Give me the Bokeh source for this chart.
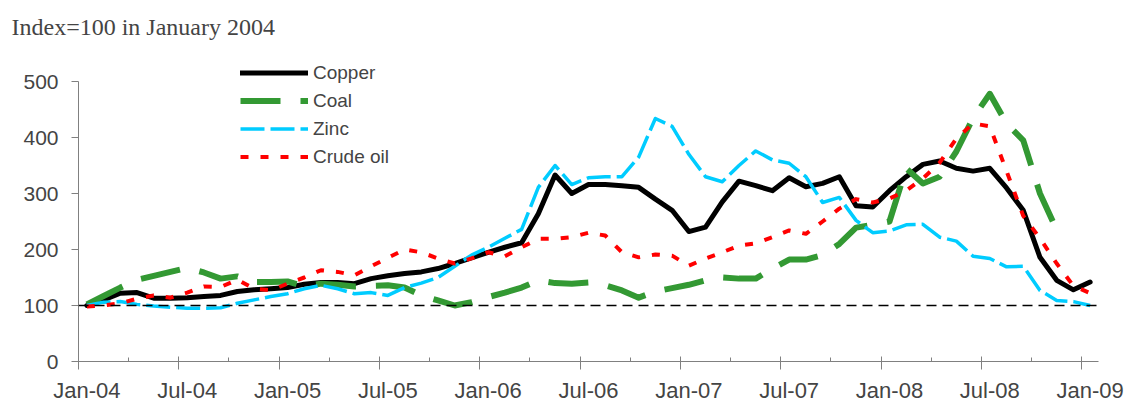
from bokeh.plotting import figure
from bokeh.models import Range1d, FixedTicker, LinearAxis, Span, Legend, LegendItem
from bokeh.embed import file_html
from bokeh.resources import INLINE

# ---- data (monthly, Jan-04 .. Jan-09), index = 100 in January 2004 ----
copper = [100, 110, 122, 123, 113, 113, 114, 116, 118, 125, 128, 130,
          132, 138, 141, 141, 139, 148, 153, 157, 160, 166, 175, 185,
          195, 204, 212, 264, 333, 300, 316, 316, 314, 311, 290, 270,
          232, 240, 285, 322, 314, 305, 328, 312, 318, 330, 278, 276,
          305, 330, 352, 358, 345, 340, 345, 310, 270, 186, 145, 128,
          142]
coal = [102, 117, 132, 146, 153, 160, 167, 159, 148, 152, 142, 142,
        143, 134, 139, 137, 134, 135, 136, 132, 118, 109, 100, 106,
        115, 123, 132, 145, 140, 139, 141, 136, 127, 114, 125, 131,
        137, 145, 150, 148, 148, 166, 182, 182, 190, 210, 239, 244,
        250, 345, 318, 330, 375, 435, 478, 425, 395, 300, 235]
zinc = [100, 106, 107, 102, 99, 97, 95, 95, 96, 104, 110, 116,
        121, 130, 136, 130, 121, 123, 118, 132, 140, 150, 170, 190,
        204, 220, 236, 311, 350, 316, 328, 330, 330, 365, 434, 420,
        370, 330, 321, 350, 376, 360, 354, 330, 284, 293, 252, 230,
        233, 244, 245, 222, 215, 188, 184, 169, 170, 127, 109, 107,
        100]
crude_oil = [98, 100, 104, 112, 118, 114, 123, 134, 133, 146, 130, 127,
             139, 150, 163, 160, 154, 170, 185, 200, 195, 184, 175, 184,
             195, 188, 204, 219, 219, 222, 230, 225, 195, 186, 191, 189,
             171, 184, 195, 207, 211, 222, 234, 228, 250, 273, 290, 284,
             291, 305, 327, 355, 398, 425, 420, 340, 260, 220, 175, 135,
             122]
tick_labels = ["Jan-04", "Jul-04", "Jan-05", "Jul-05", "Jan-06", "Jul-06",
               "Jan-07", "Jul-07", "Jan-08", "Jul-08", "Jan-09"]
y_ticks = [0, 100, 200, 300, 400, 500]
baseline = 100


def xs(series):
    return [i + 0.5 for i in range(len(series))]


FONT = "Liberation Sans"

p = figure(width=1125, height=405, output_backend="svg", toolbar_location=None,
           x_range=Range1d(0, 61), y_range=Range1d(0, 550),
           min_border_left=78, min_border_right=27, min_border_top=53,
           min_border_bottom=44,
           title="Index=100 in January 2004")
p.outline_line_color = None
p.xgrid.visible = False
p.ygrid.visible = False
p.background_fill_color = "white"

p.title.text_font = "Liberation Serif"
p.title.text_font_size = "24px"
p.title.text_font_style = "normal"
p.title.align = "left"
p.title.vertical_align = "top"
p.title.offset = -67
p.title.standoff = 24

# y axis
ya = p.yaxis[0]
ya.ticker = FixedTicker(ticks=y_ticks)
ya.bounds = (0, 500)
ya.major_tick_in = 0
ya.major_tick_out = 7
ya.minor_tick_line_color = None
ya.axis_line_color = "#808080"
ya.major_tick_line_color = "#808080"
ya.major_label_text_font = FONT
ya.major_label_text_font_size = "21px"
ya.major_label_standoff = 13

# x axis: tick marks only
xa = p.xaxis[0]
xa.ticker = FixedTicker(ticks=[6 * k for k in range(len(tick_labels))],
                        minor_ticks=[6 * k + 3 for k in range(len(tick_labels) - 1)])
xa.major_tick_in = 5
xa.major_tick_out = 8
xa.minor_tick_in = 4
xa.minor_tick_out = 0
xa.axis_line_color = "#808080"
xa.major_tick_line_color = "#808080"
xa.minor_tick_line_color = "#808080"
xa.major_label_text_font_size = "0px"
xa.major_label_standoff = 0

# x axis: labels centred on the month
label_pos = [6 * k + 0.5 for k in range(len(tick_labels))]
xl = LinearAxis(ticker=FixedTicker(ticks=label_pos),
                major_label_overrides={pos: lab for pos, lab in zip(label_pos, tick_labels)},
                axis_line_color=None, major_tick_line_color=None,
                minor_tick_line_color=None, major_tick_out=0, major_tick_in=0,
                major_label_standoff=8,
                major_label_text_font=FONT, major_label_text_font_size="22px")
p.add_layout(xl, "below")

p.add_layout(Span(location=baseline, dimension="width", line_color="black",
                  line_width=1.5, line_dash="10 6"))

r_cu = p.line(xs(copper), copper, line_color="black", line_width=5,
              line_join="round", line_cap="round")
r_coal = p.line(xs(coal), coal, line_color="#339933", line_width=6,
                line_dash="40 20", line_join="round")
r_zn = p.line(xs(zinc), zinc, line_color="#00CCFF", line_width=3.5,
              line_dash="24 6", line_join="round")
r_oil = p.line(xs(crude_oil), crude_oil, line_color="#FF0000", line_width=4,
               line_dash="8 12", line_join="round")

legend = Legend(items=[LegendItem(label="Copper", renderers=[r_cu]),
                       LegendItem(label="Coal", renderers=[r_coal]),
                       LegendItem(label="Zinc", renderers=[r_zn]),
                       LegendItem(label="Crude oil", renderers=[r_oil])],
                location=(162, 193), border_line_color=None,
                background_fill_alpha=0, padding=0, margin=0, spacing=5,
                label_height=23, glyph_height=23, glyph_width=68,
                label_standoff=5, label_text_font=FONT,
                label_text_font_size="19px")
p.add_layout(legend)

open("out.html", "w").write(file_html(p, INLINE))
